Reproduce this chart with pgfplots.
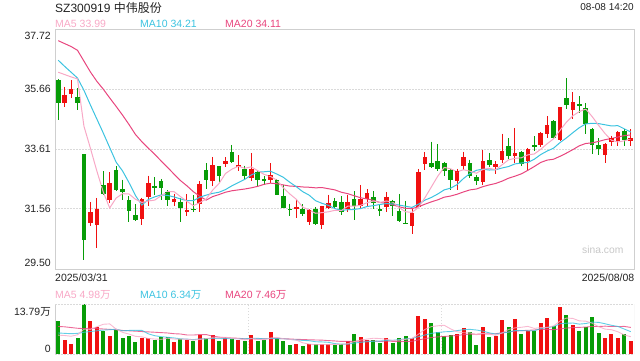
\documentclass[border=0pt]{standalone}
\usepackage{fontspec}
\setmainfont{Liberation Sans}
\newfontfamily\cjk{Noto Sans CJK SC}
\usepackage{pgfplots}
\usepackage{pgfplotstable}
\pgfplotsset{compat=1.18}

\definecolor{ma5}{HTML}{F8A8C6}
\definecolor{ma10}{HTML}{3CC3E0}
\definecolor{ma20}{HTML}{E8457E}
\definecolor{up}{HTML}{F01010}
\definecolor{down}{HTML}{079C07}
\definecolor{framegray}{HTML}{CFCFCF}
\definecolor{gridgray}{HTML}{DADADA}
\definecolor{txt}{HTML}{222222}

% up (red) candles: index open high low close volume(10k)
\pgfplotstableread{
i o h l c v
2 35.17 35.74 35.05 35.44 3.94
3 35.51 35.96 35.36 35.65 2.81
6 31.06 31.80 30.99 31.43 9.0
7 31.00 31.94 30.21 31.54 7.4
9 31.86 32.81 31.76 32.43 5.07
14 31.22 31.94 31.02 31.88 4.32
15 31.97 32.70 31.65 32.43 4.32
19 31.79 32.08 31.65 31.88 3.19
21 31.44 32.06 31.33 31.50 3.75
23 31.71 32.51 31.44 32.39 5.35
25 32.51 33.34 32.33 33.04 5.35
27 33.11 33.32 33.00 33.18 4.5
29 33.02 33.39 32.85 33.04 3.75
31 32.62 33.48 32.51 32.91 5.35
34 32.56 33.13 32.43 32.70 6.0
38 31.55 31.90 31.25 31.60 2.81
40 31.10 31.54 31.01 31.50 2.63
42 31.01 31.67 30.87 31.63 2.81
43 31.58 32.05 31.54 31.76 2.63
46 31.56 32.05 31.44 31.78 3.47
48 31.65 32.38 31.59 31.88 4.78
49 31.90 32.24 31.65 32.08 3.94
52 31.62 32.14 31.44 31.94 4.5
56 30.99 31.59 30.71 31.40 4.32
57 31.63 32.93 31.63 32.79 10.4
58 33.08 33.51 32.88 33.32 9.57
63 32.51 32.93 32.22 32.85 5.63
64 33.02 33.52 32.88 33.32 7.04
67 32.48 33.59 32.39 33.17 7.32
69 33.00 33.19 32.77 33.09 5.07
70 33.23 34.14 33.13 33.52 9.29
72 33.36 34.33 33.13 33.45 9.57
74 33.19 33.65 32.88 33.59 6.3
76 33.75 34.18 33.68 34.13 8.44
77 34.12 34.73 33.99 34.41 9.85
79 33.93 35.03 33.88 35.03 12.95
81 34.94 35.55 34.64 35.20 7.88
86 33.41 33.82 33.13 33.77 4.5
87 33.84 34.07 33.70 33.96 5.63
88 33.88 34.22 33.70 34.16 4.5
90 33.88 34.28 33.73 33.98 3.66
}\upT

% down (green) candles
\pgfplotstableread{
i o h l c v
1 35.96 36.01 34.62 35.19 9.1
4 35.37 35.69 34.96 35.19 4.5
5 33.43 33.43 29.80 30.49 13.79
8 32.36 32.85 32.03 32.06 6.3
10 32.88 33.02 32.17 32.20 6.57
11 32.22 32.56 31.88 32.15 4.5
12 31.84 31.99 31.10 31.50 5.07
13 31.33 31.71 31.16 31.19 3.19
16 32.33 32.65 32.05 32.29 3.75
17 32.49 32.59 31.86 32.28 4.69
18 32.11 32.20 31.67 31.86 4.69
20 31.79 31.94 31.10 31.58 4.13
22 31.54 32.02 31.44 31.51 3.56
24 32.87 33.13 32.24 32.54 4.5
26 33.01 33.01 32.43 32.68 3.47
28 33.48 33.75 33.13 33.16 4.13
30 32.91 33.04 32.54 32.70 3.47
32 32.81 32.85 32.36 32.54 3.47
33 32.56 32.68 32.39 32.52 3.75
35 32.54 32.59 32.04 32.04 4.4
36 31.99 32.39 31.58 31.58 3.47
37 31.55 31.74 31.33 31.52 2.53
39 31.54 31.71 31.31 31.38 2.25
41 31.54 31.62 31.02 31.05 2.63
44 31.81 31.94 31.54 31.62 2.53
45 31.79 31.99 31.36 31.44 2.81
47 31.88 32.17 31.19 31.67 5.6
50 31.94 32.16 31.54 31.76 3.94
51 31.54 31.71 31.33 31.50 3.1
53 31.82 31.88 31.31 31.65 3.1
54 31.47 32.07 31.10 31.16 4.5
55 31.07 31.84 31.03 31.03 5.07
59 33.13 33.86 32.96 32.99 8.44
60 33.18 33.77 32.86 32.91 6.19
61 33.11 33.18 32.68 32.87 5.07
62 32.87 32.91 32.20 32.54 5.35
65 33.13 33.25 32.62 32.68 6.0
66 32.65 32.73 32.37 32.51 2.53
68 33.21 33.48 32.99 33.05 4.78
71 33.69 33.97 33.27 33.36 7.32
73 33.49 33.53 33.04 33.11 5.63
75 33.73 34.05 33.53 33.70 6.47
78 34.55 34.60 33.96 33.99 7.69
80 35.34 36.04 34.98 35.11 10.69
82 35.12 35.42 34.85 35.10 6.47
83 35.01 35.19 34.14 34.45 7.32
84 34.28 34.33 33.44 33.75 10.13
85 33.73 33.98 33.42 33.61 5.91
89 34.20 34.28 33.70 33.93 5.63
}\downT

% moving averages: price MA5 MA10 MA20, volume MA5 MA10 MA20
\pgfplotstableread{
i m5 m10 m20 v5 v10 v20
1 36.24 36.65 37.32 5.2 5.8 7.6
2 36.16 36.44 37.22 5.1 5.7 7.5
3 36.08 36.24 37.12 4.9 5.6 7.3
4 36.01 36.04 36.99 5.3 5.7 7.1
5 34.39 35.62 36.62 6.83 6.0 7.0
6 33.64 35.12 36.25 6.81 6.2 7.1
7 32.86 34.64 35.93 7.50 6.4 7.0
8 32.14 34.16 35.66 8.20 6.6 6.9
9 31.59 33.66 35.36 8.31 6.7 6.8
10 31.93 33.16 35.07 6.87 6.85 6.7
11 32.08 32.86 34.77 5.97 6.39 6.5
12 32.07 32.46 34.45 5.50 6.50 6.4
13 31.89 32.02 34.11 4.88 6.54 6.3
14 31.78 31.69 33.86 4.73 6.52 6.2
15 31.83 31.88 33.64 4.28 5.57 6.1
16 31.86 31.97 33.43 4.13 5.05 6.0
17 32.01 32.04 33.20 4.05 4.78 5.9
18 32.15 32.02 32.98 4.35 4.62 5.8
19 32.15 31.97 32.75 4.13 4.43 5.6
20 31.98 31.90 32.53 4.09 4.19 5.52
21 31.82 31.84 32.35 4.09 4.11 5.25
22 31.67 31.84 32.15 3.86 3.96 5.23
23 31.77 31.96 31.99 4.00 4.18 5.36
24 31.90 32.03 31.86 4.26 4.19 5.36
25 32.20 32.09 31.98 4.50 4.30 4.94
26 32.43 32.13 32.05 4.45 4.27 4.66
27 32.77 32.22 32.13 4.63 4.25 4.51
28 32.92 32.35 32.18 4.39 4.19 4.41
29 33.02 32.46 32.21 4.24 4.25 4.34
30 32.95 32.57 32.24 3.86 4.18 4.18
31 33.00 32.72 32.28 4.24 4.34 4.23
32 32.87 32.82 32.33 4.03 4.33 4.15
33 32.74 32.83 32.40 3.96 4.17 4.17
34 32.67 32.85 32.44 4.41 4.32 4.26
35 32.54 32.75 32.42 4.59 4.23 4.26
36 32.28 32.64 32.38 4.22 4.23 4.25
37 32.07 32.47 32.34 4.03 4.03 4.14
38 31.89 32.32 32.33 3.84 3.90 4.05
39 31.62 32.15 32.31 3.09 3.75 4.00
40 31.52 32.03 32.30 2.74 3.67 3.92
41 31.41 31.84 32.28 2.57 3.39 3.87
42 31.43 31.75 32.29 2.63 3.33 3.83
43 31.46 31.68 32.25 2.59 3.22 3.70
44 31.51 31.57 32.21 2.65 2.87 3.60
45 31.50 31.51 32.13 2.68 2.71 3.47
46 31.65 31.53 32.08 2.85 2.71 3.47
47 31.65 31.54 32.01 3.41 3.02 3.52
48 31.68 31.57 31.94 3.84 3.21 3.56
49 31.77 31.64 31.90 4.12 3.38 3.57
50 31.83 31.67 31.85 4.35 3.51 3.59
51 31.78 31.71 31.78 4.27 3.56 3.48
52 31.83 31.74 31.75 4.05 3.73 3.53
53 31.79 31.73 31.70 3.72 3.78 3.50
54 31.60 31.69 31.63 3.83 3.97 3.42
55 31.46 31.65 31.58 4.05 4.20 3.46
56 31.44 31.61 31.57 4.30 4.29 3.50
57 31.61 31.72 31.63 5.48 4.77 3.89
58 31.94 31.86 31.72 6.77 5.24 4.23
59 32.31 31.95 31.80 7.56 5.69 4.54
60 32.68 32.07 31.87 7.78 5.92 4.72
61 32.98 32.21 31.96 7.93 6.12 4.84
62 32.93 32.27 32.00 6.92 6.20 4.97
63 32.83 32.39 32.06 6.14 6.45 5.12
64 32.90 32.60 32.14 5.86 6.71 5.34
65 32.85 32.77 32.21 5.82 6.80 5.50
66 32.78 32.88 32.24 5.31 6.62 5.45
67 32.91 32.92 32.32 5.70 6.31 5.54
68 32.95 32.89 32.38 5.53 5.84 5.54
69 32.90 32.90 32.43 5.14 5.50 5.60
70 33.07 32.96 32.51 5.80 5.81 5.86
71 33.24 33.01 32.61 6.76 6.03 6.07
72 33.29 33.10 32.68 7.21 6.46 6.33
73 33.31 33.13 32.76 7.38 6.46 6.45
74 33.41 33.15 32.88 7.62 6.38 6.54
75 33.44 33.26 33.01 7.06 6.43 6.61
76 33.60 33.42 33.15 7.28 7.02 6.82
77 33.79 33.54 33.23 7.34 7.27 6.79
78 33.96 33.64 33.26 7.75 7.56 6.70
79 34.25 33.83 33.36 9.08 8.35 6.92
80 34.53 33.99 33.47 9.92 8.49 7.15
81 34.75 34.17 33.59 9.81 8.55 7.29
82 34.89 34.34 33.72 9.14 8.24 7.35
83 34.98 34.47 33.80 9.06 8.41 7.43
84 34.72 34.49 33.82 8.50 8.79 7.59
85 34.42 34.48 33.87 7.54 8.73 7.58
86 34.14 34.44 33.93 6.87 8.34 7.68
87 33.91 34.40 33.97 6.70 7.92 7.59
88 33.85 34.41 34.02 6.13 7.60 7.58
89 33.89 34.30 34.07 5.23 6.87 7.61
90 33.96 34.19 34.09 4.78 6.16 7.33
}\maT

\begin{document}
\begin{tikzpicture}
\path[use as bounding box] (0pt,0pt) rectangle (640pt,-360pt);

% ---------- price panel ----------
\begin{axis}[
  at={(55pt,-29pt)}, anchor=north west, scale only axis,
  width=579pt, height=240pt,
  xmin=0.5, xmax=90.5, ymin=29.50, ymax=37.72,
  axis line style={draw=framegray, line width=0.8pt},
  xtick=\empty,
  ytick={31.56,33.61,35.66}, yticklabels={31.56,33.61,35.66},
  ymajorgrids,
  grid style={draw=gridgray, line width=1pt, dash pattern=on 1.5pt off 1.5pt},
  tick style={draw=none},
  yticklabel style={font=\fontsize{10.5}{12}\selectfont, text=txt, inner sep=0pt, anchor=east, xshift=-4pt},
]
% wicks
\addplot[draw=none, mark=none, error bars/.cd, y dir=minus, y explicit, error mark=none,
  error bar style={line width=1pt, draw=up}]
  table[x=i, y=h, y error minus expr=\thisrow{h}-\thisrow{l}] {\upT};
\addplot[draw=none, mark=none, error bars/.cd, y dir=minus, y explicit, error mark=none,
  error bar style={line width=1pt, draw=down}]
  table[x=i, y=h, y error minus expr=\thisrow{h}-\thisrow{l}] {\downT};
% bodies
\addplot[only marks, mark=-, mark size=2.3pt, mark options={line width=1pt, draw=up},
  error bars/.cd, y dir=minus, y explicit, error mark=none,
  error bar style={line width=4.6pt, draw=up}]
  table[x=i, y=c, y error minus expr=\thisrow{c}-\thisrow{o}] {\upT};
\addplot[only marks, mark=-, mark size=2.3pt, mark options={line width=1pt, draw=down},
  error bars/.cd, y dir=minus, y explicit, error mark=none,
  error bar style={line width=4.6pt, draw=down}]
  table[x=i, y=o, y error minus expr=\thisrow{o}-\thisrow{c}] {\downT};
% moving averages
\addplot[ma20, line width=1pt, mark=none] table[x=i, y=m20] {\maT};
\addplot[ma10, line width=1pt, mark=none] table[x=i, y=m10] {\maT};
\addplot[ma5, line width=1pt, mark=none] table[x=i, y=m5] {\maT};
\end{axis}

% ---------- volume panel ----------
\begin{axis}[
  at={(55pt,-304pt)}, anchor=north west, scale only axis,
  width=579pt, height=50pt,
  xmin=0.5, xmax=90.5, ymin=0, ymax=13.79,
  axis line style={draw=none},
  tick style={draw=none},
  xtick={30.5,60.5}, xticklabels={}, ytick=\empty,
  xmajorgrids,
  grid style={draw=gridgray, line width=1pt, dash pattern=on 1.5pt off 1.5pt},
]
\addplot[ycomb, draw=up, line width=4pt, mark=none] table[x=i, y=v] {\upT};
\addplot[ycomb, draw=down, line width=4pt, mark=none] table[x=i, y=v] {\downT};
\addplot[ma20, line width=0.9pt, opacity=0.8, mark=none] table[x=i, y=v20] {\maT};
\addplot[ma10, line width=0.9pt, opacity=0.8, mark=none] table[x=i, y=v10] {\maT};
\addplot[ma5, line width=0.9pt, opacity=0.8, mark=none] table[x=i, y=v5] {\maT};
\draw[framegray, line width=0.8pt] (rel axis cs:0,0) -- (rel axis cs:0,1);
\draw[framegray, line width=0.8pt] (rel axis cs:1,0) -- (rel axis cs:1,1);
\draw[gridgray, line width=1pt, dash pattern=on 1.5pt off 1.5pt] (rel axis cs:0,1) -- (rel axis cs:1,1);
\draw[gridgray, line width=1pt, dash pattern=on 1.5pt off 1.5pt] (rel axis cs:0,0) -- (rel axis cs:1,0);
\end{axis}

% ---------- texts ----------
\node[anchor=base west, inner sep=0pt, font=\fontsize{12}{14}\selectfont, text=txt] at (55pt,-12pt) {SZ300919 {\cjk 中伟股份}};
\node[anchor=base east, inner sep=0pt, font=\fontsize{10}{12}\selectfont, text=txt] at (634pt,-10pt) {08-08 14:20};

\begin{scope}[every node/.style={anchor=base west, inner sep=0pt, font=\fontsize{10.5}{12}\selectfont}]
\node[text=ma5] at (55pt,-27.5pt) {MA5 33.99};
\node[text=ma10] at (140pt,-27.5pt) {MA10 34.21};
\node[text=ma20] at (225pt,-27.5pt) {MA20 34.11};
\node[text=ma5] at (55pt,-298pt) {MA5 4.98{\cjk 万}};
\node[text=ma10] at (140pt,-298pt) {MA10 6.34{\cjk 万}};
\node[text=ma20] at (225pt,-298pt) {MA20 7.46{\cjk 万}};
\node[text=txt] at (55pt,-281.5pt) {2025/03/31};
\end{scope}
\node[anchor=base east, inner sep=0pt, font=\fontsize{10.5}{12}\selectfont, text=txt] at (634.5pt,-281.5pt) {2025/08/08};

\begin{scope}[every node/.style={anchor=base east, inner sep=0pt, font=\fontsize{10.5}{12}\selectfont, text=txt}]
\node at (51pt,-39.2pt) {37.72};
\node at (51pt,-266.8pt) {29.50};
\node at (51pt,-315.7pt) {13.79{\cjk 万}};
\node at (51pt,-352pt) {0};
\end{scope}

\node[anchor=base west, inner sep=0pt, font=\fontsize{10.3}{12}\selectfont, text=black!22] at (582pt,-253pt) {sina.com};
\end{tikzpicture}
\end{document}
